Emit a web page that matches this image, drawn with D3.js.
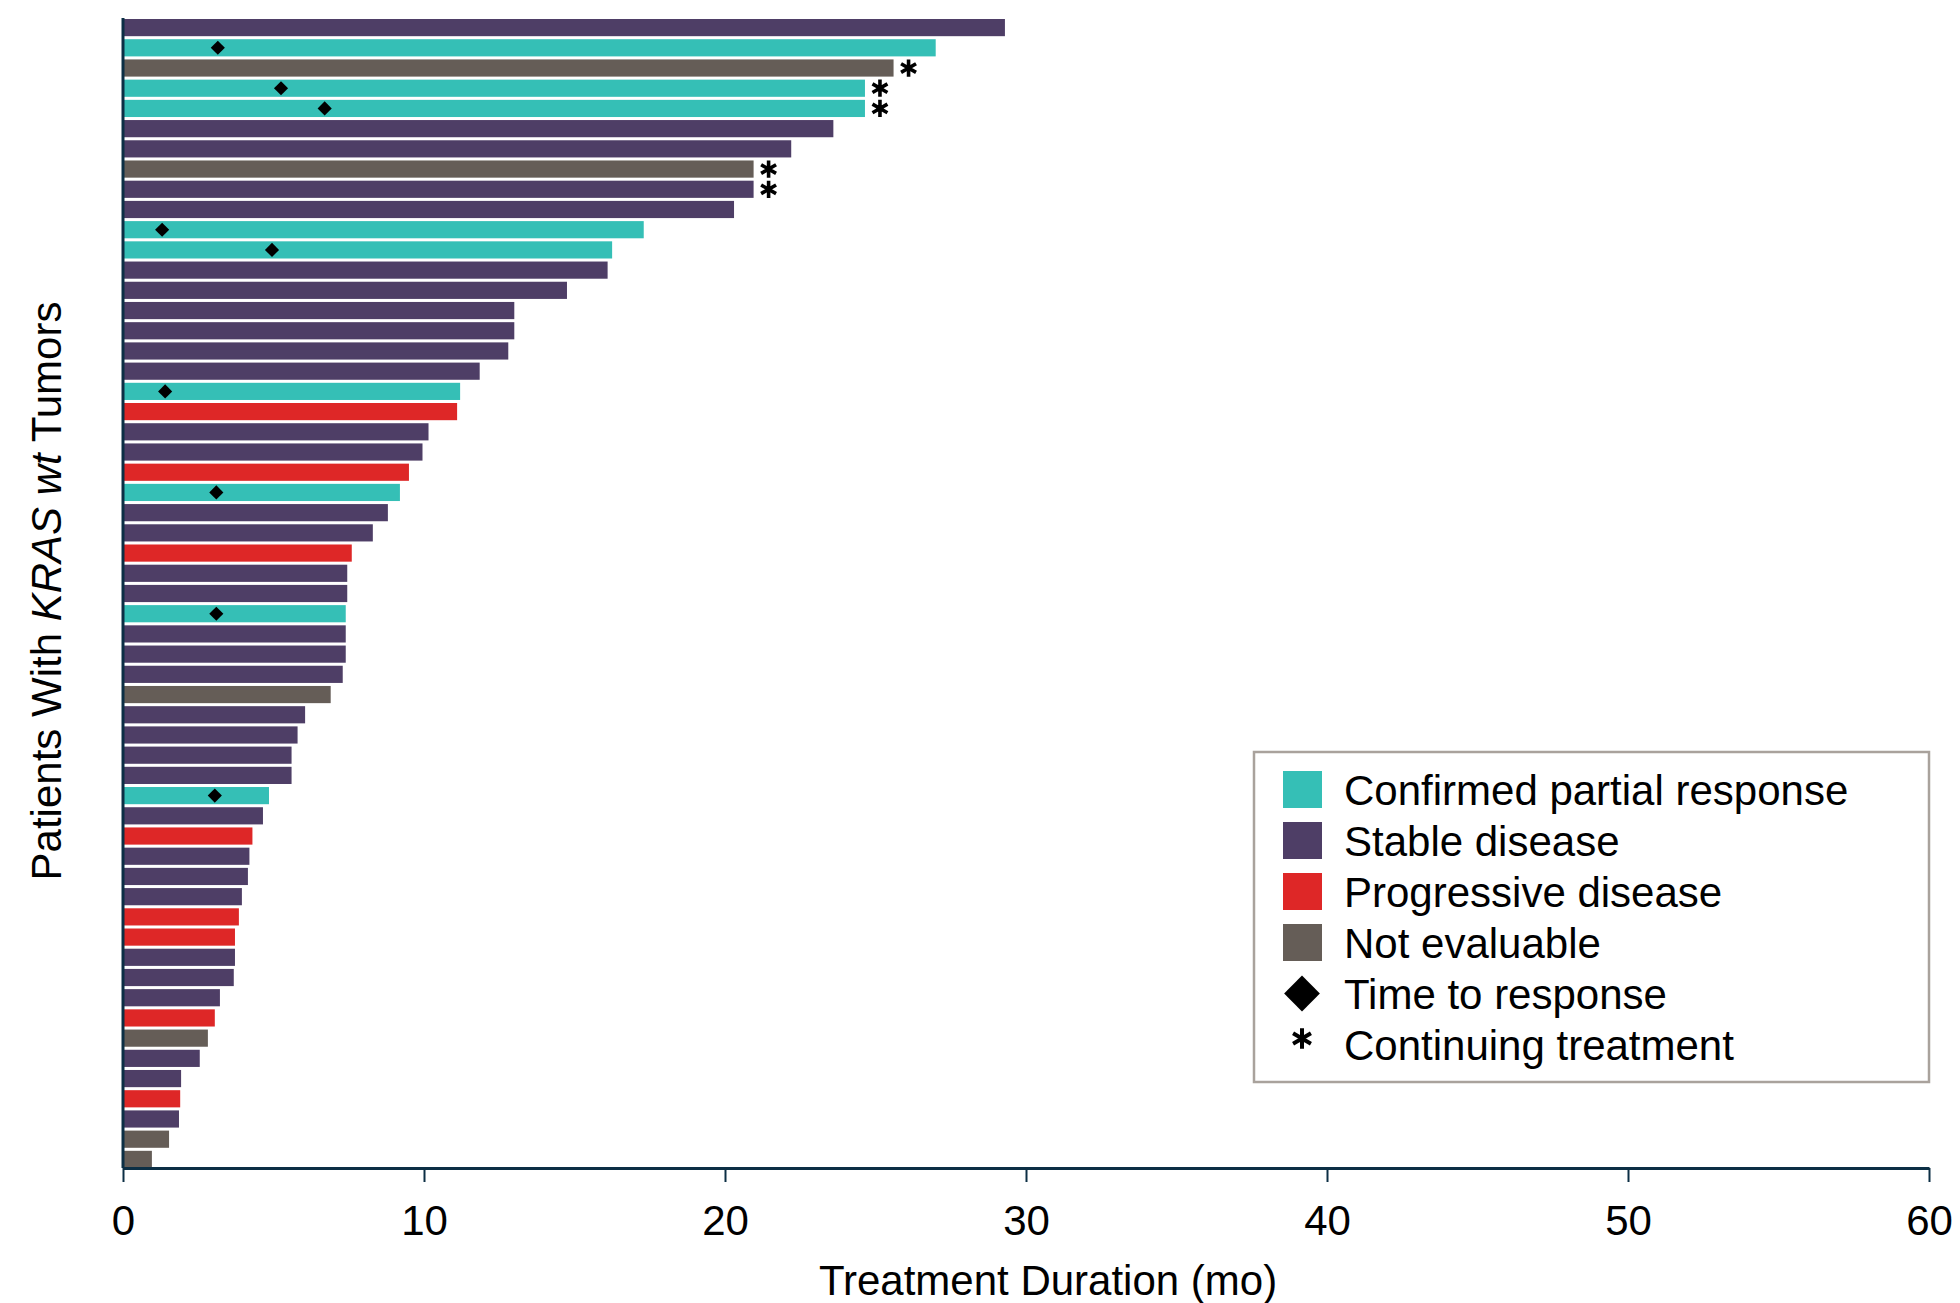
<!DOCTYPE html>
<html>
<head>
<meta charset="UTF-8">
<script src="https://d3js.org/d3.v7.min.js"></script>
<style>
  body { margin: 0; background: #fff; }
  svg { display: block; font-family: "Liberation Sans", Arial, sans-serif; }
</style>
</head>
<body>
<svg id="chart" width="1960" height="1303"></svg>
<script>
// one entry per patient, top to bottom
const durations = [29.3, 27.0, 25.6, 24.65, 24.65, 23.6, 22.2, 20.95, 20.95, 20.3,
  17.3, 16.25, 16.1, 14.75, 13.0, 13.0, 12.8, 11.85, 11.2, 11.1,
  10.15, 9.95, 9.5, 9.2, 8.8, 8.3, 7.6, 7.45, 7.45, 7.4,
  7.4, 7.4, 7.3, 6.9, 6.05, 5.8, 5.6, 5.6, 4.85, 4.65,
  4.3, 4.2, 4.15, 3.95, 3.85, 3.72, 3.72, 3.68, 3.22, 3.05,
  2.82, 2.55, 1.93, 1.9, 1.86, 1.53, 0.96];
const responses = ["SD", "PR", "NE", "PR", "PR", "SD", "SD", "NE", "SD", "SD",
  "PR", "PR", "SD", "SD", "SD", "SD", "SD", "SD", "PR", "PD",
  "SD", "SD", "PD", "PR", "SD", "SD", "PD", "SD", "SD", "PR",
  "SD", "SD", "SD", "NE", "SD", "SD", "SD", "SD", "PR", "SD",
  "PD", "SD", "SD", "SD", "PD", "PD", "SD", "SD", "SD", "PD",
  "NE", "SD", "SD", "PD", "SD", "NE", "NE"];
const timeToResponse = [null, 3.15, null, 5.25, 6.7, null, null, null, null, null,
  1.3, 4.95, null, null, null, null, null, null, 1.4, null,
  null, null, null, 3.1, null, null, null, null, null, 3.1,
  null, null, null, null, null, null, null, null, 3.05, null,
  null, null, null, null, null, null, null, null, null, null,
  null, null, null, null, null, null, null];
const continuing = [2, 3, 4, 7, 8]; // row indexes still on treatment

const categories = ["PR", "SD", "PD", "NE"];
const categoryLabels = ["Confirmed partial response", "Stable disease", "Progressive disease", "Not evaluable"];
const categoryColors = ["#35bfb6", "#4e3e66", "#de2727", "#655d57"];
const xTicks = [0, 10, 20, 30, 40, 50, 60];

const axisColor = "#0c2f45";
const svg = d3.select("#chart");

const x = d3.scaleLinear().domain([0, 60]).range([123, 1929]);
const y = d3.scaleBand().domain(d3.range(durations.length)).range([19, 1168]).paddingInner(0.15);
const color = d3.scaleOrdinal().domain(categories).range(categoryColors);

const rows = durations.map((d, i) => ({ i, dur: d, resp: responses[i], ttr: timeToResponse[i], cont: continuing.includes(i) }));

// bars
svg.append("g")
  .selectAll("rect")
  .data(rows)
  .join("rect")
  .attr("x", x(0))
  .attr("y", d => y(d.i))
  .attr("width", d => x(d.dur) - x(0))
  .attr("height", y.bandwidth())
  .attr("fill", d => color(d.resp));

// time to response diamonds
const diamond = d3.symbol(d3.symbolSquare, 100);
svg.append("g")
  .selectAll("path")
  .data(rows.filter(d => d.ttr != null))
  .join("path")
  .attr("d", diamond)
  .attr("transform", d => `translate(${x(d.ttr)},${y(d.i) + y.bandwidth() / 2}) rotate(45)`)
  .attr("fill", "#000");

// continuing treatment asterisks
const star = d3.symbol(d3.symbolAsterisk, 210);
svg.append("g")
  .selectAll("path")
  .data(rows.filter(d => d.cont))
  .join("path")
  .attr("d", star)
  .attr("transform", d => `translate(${x(d.dur) + 15},${y(d.i) + y.bandwidth() / 2})`)
  .attr("fill", "none")
  .attr("stroke", "#000")
  .attr("stroke-width", 3.6);

// axes
svg.append("line")
  .attr("x1", x(0)).attr("x2", x(0))
  .attr("y1", 18).attr("y2", 1168)
  .attr("stroke", axisColor)
  .attr("stroke-width", 3);

const xAxis = svg.append("g")
  .attr("transform", "translate(0,1168)")
  .call(d3.axisBottom(x).tickValues(xTicks).tickFormat(d3.format("d")).tickSize(14).tickSizeOuter(0).tickPadding(23));
xAxis.select(".domain").attr("stroke", axisColor).attr("stroke-width", 3);
xAxis.selectAll(".tick line").attr("stroke", axisColor).attr("stroke-width", 2);
xAxis.selectAll(".tick text")
  .attr("fill", "#000")
  .style("font-size", "42px")
  .style("font-family", "'Liberation Sans', Arial, sans-serif");

svg.append("text")
  .attr("x", 1048)
  .attr("y", 1295)
  .attr("text-anchor", "middle")
  .style("font-size", "42px")
  .text("Treatment Duration (mo)");

const yTitle = svg.append("text")
  .attr("transform", "translate(61,591) rotate(-90)")
  .attr("text-anchor", "middle")
  .style("font-size", "42px");
yTitle.append("tspan").text("Patients With ");
yTitle.append("tspan").attr("font-style", "italic").text("KRAS wt");
yTitle.append("tspan").text(" Tumors");

// legend
const legend = svg.append("g");
legend.append("rect")
  .attr("x", 1254).attr("y", 752)
  .attr("width", 675).attr("height", 330)
  .attr("fill", "#fff")
  .attr("stroke", "#a9a29c")
  .attr("stroke-width", 2.5);

const rowY = i => 789.5 + i * 51;
categories.forEach((c, i) => {
  legend.append("rect")
    .attr("x", 1283).attr("y", rowY(i) - 18.5)
    .attr("width", 39).attr("height", 37)
    .attr("fill", color(c));
  legend.append("text")
    .attr("x", 1344).attr("y", rowY(i))
    .attr("dy", "0.36em")
    .style("font-size", "42px")
    .text(categoryLabels[i]);
});
legend.append("path")
  .attr("d", d3.symbol(d3.symbolSquare, 640))
  .attr("transform", `translate(1302,${rowY(4)}) rotate(45)`)
  .attr("fill", "#000");
legend.append("text")
  .attr("x", 1344).attr("y", rowY(4)).attr("dy", "0.36em")
  .style("font-size", "42px")
  .text("Time to response");
legend.append("path")
  .attr("d", d3.symbol(d3.symbolAsterisk, 300))
  .attr("transform", `translate(1302,${rowY(5) - 6})`)
  .attr("fill", "none")
  .attr("stroke", "#000")
  .attr("stroke-width", 4);
legend.append("text")
  .attr("x", 1344).attr("y", rowY(5)).attr("dy", "0.36em")
  .style("font-size", "42px")
  .text("Continuing treatment");
</script>
</body>
</html>
